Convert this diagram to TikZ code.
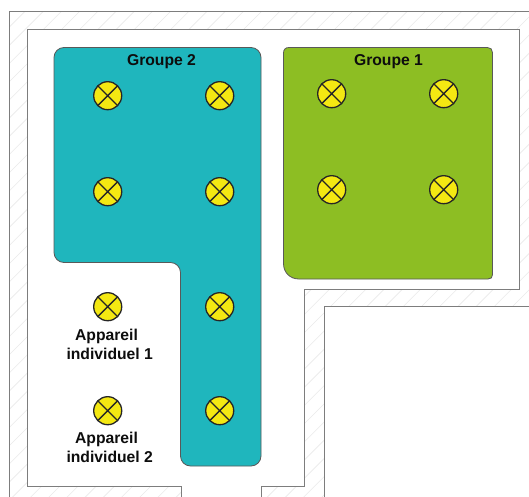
\documentclass[tikz,border=0pt]{standalone}
\usepackage{fontspec}
\setmainfont{Liberation Sans}
\definecolor{teal2}{RGB}{31,182,189}
\definecolor{green1}{RGB}{141,190,35}
\definecolor{lampy}{RGB}{244,232,18}
\definecolor{wallc}{RGB}{125,125,125}
\definecolor{hatchc}{RGB}{234,234,234}
\tikzset{
  lamp/.style={circle,draw=black!85,line width=1.3bp,fill=lampy,minimum size=28bp,inner sep=0pt,
    path picture={
      \draw[black!85,line width=1.3bp] (path picture bounding box.south west) -- (path picture bounding box.north east)
        (path picture bounding box.north west) -- (path picture bounding box.south east);
    }},
  wall/.style={draw=wallc,line width=1bp},
  zone/.style={draw=black!65,line width=0.8bp},
  label/.style={font=\fontsize{15.7bp}{18bp}\selectfont\bfseries,anchor=base,inner sep=0pt,text=black!95},
}
\begin{document}
\begin{tikzpicture}[x=1bp,y=-1bp]
\useasboundingbox (0,0) rectangle (529,497);
\fill[white] (0,0) rectangle (529,497);
% hatching in the wall band
\begin{scope}[even odd rule]
  \clip
    (9.5,11.5) -- (529,11.5) -- (529,497) -- (9.5,497) -- cycle
    (27.5,29.5) -- (519.5,29.5) -- (519.5,289.5) -- (304.5,289.5) -- (304.5,486.5) -- (261,486.5) -- (261,497) -- (181.5,497) -- (181.5,486.5) -- (27.5,486.5) -- cycle
    (324.5,306.5) -- (529,306.5) -- (529,497) -- (324.5,497) -- cycle;
  \foreach \k in {0,18.2,...,1100}
    \draw[hatchc,line width=0.6bp] (\k,0) -- (\k-520,520);
\end{scope}
% walls
\draw[wall] (529,11.5) -- (9.5,11.5) -- (9.5,497);
\draw[wall] (27.5,486.5) -- (27.5,29.5) -- (519.5,29.5) -- (519.5,289.5) -- (304.5,289.5) -- (304.5,486.5) -- (261,486.5) -- (261,497);
\draw[wall] (27.5,486.5) -- (181.5,486.5) -- (181.5,497);
\draw[wall] (529,306.5) -- (324.5,306.5) -- (324.5,497);
% zones
\draw[zone,fill=teal2,rounded corners=10bp]
  (54,47.5) -- (261,47.5) -- (261,466) -- (180.5,466) -- (180.5,262.5) -- (54,262.5) -- cycle;
\draw[zone,fill=green1]
  (289,47.5) -- (487.5,47.5) .. controls (490.5,47.5) and (492.5,49.5) .. (492.5,52.5) -- (492.5,274.5)
  .. controls (492.5,277.5) and (491,279) .. (488,279) -- (299,279)
  .. controls (290,279) and (283.5,272.5) .. (283.5,263.5)
  -- (283.5,53) .. controls (283.5,49.5) and (285.5,47.5) .. (289,47.5) -- cycle;
% lamps
\node[lamp] (a1) at (107.7,95.7) {};
\node[lamp] (a2) at (219.7,95.7) {};
\node[lamp] (a3) at (107.7,191.7) {};
\node[lamp] (a4) at (219.7,191.7) {};
\node[lamp] (a5) at (219.7,306.7) {};
\node[lamp] (a6) at (219.7,410.7) {};
\node[lamp] (b1) at (331.7,93.7) {};
\node[lamp] (b2) at (443.7,93.7) {};
\node[lamp] (b3) at (331.7,189.7) {};
\node[lamp] (b4) at (443.7,189.7) {};
\node[lamp] (i1) at (107.7,306.7) {};
\node[lamp] (i2) at (107.7,410.7) {};
% labels
\node[label] (g2) at (161.5,66) {Groupe 2};
\node[label] (g1) at (388.5,66) {Groupe 1};
\node[label] (l1a) at (106.5,340) {Appareil};
\node[label] (l1b) at (109.7,359) {individuel 1};
\node[label] (l2a) at (106.5,443) {Appareil};
\node[label] (l2b) at (109.7,462) {individuel 2};
\end{tikzpicture}
\end{document}
